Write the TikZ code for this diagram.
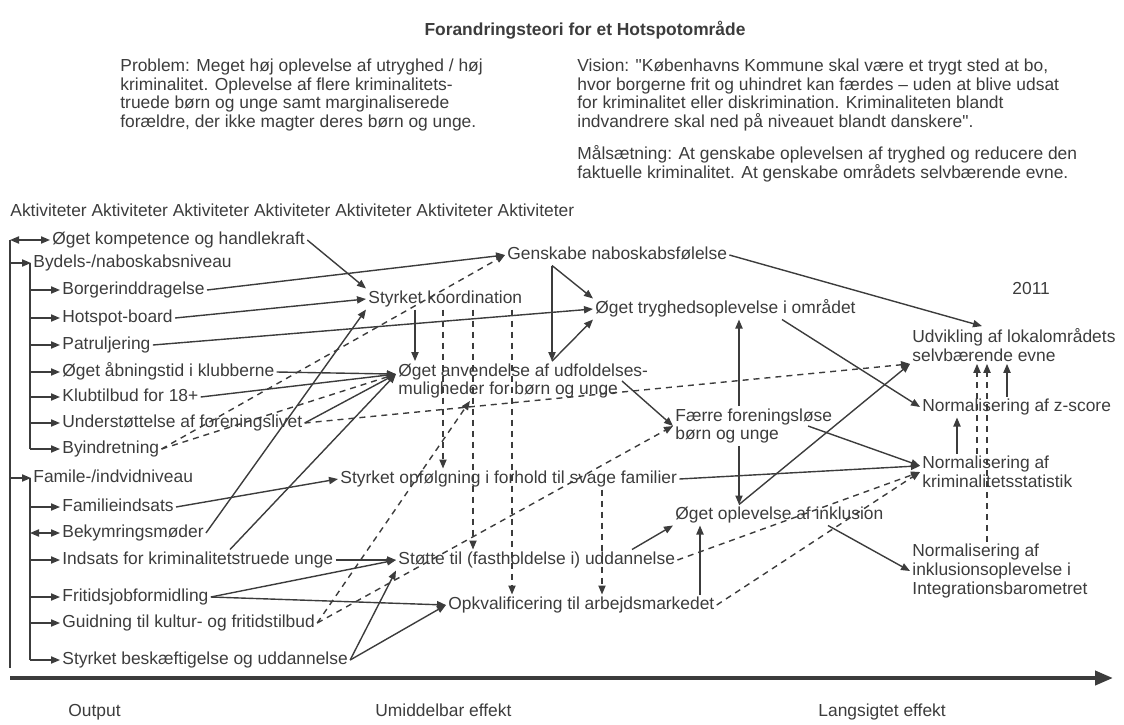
\documentclass[tikz,border=0pt]{standalone}
\usepackage{fontspec}
\setmainfont{Liberation Sans}[Ligatures=TeXOff]
\usetikzlibrary{arrows.meta}
\definecolor{inkGray}{HTML}{3C3C3C}

\begin{document}
\begin{tikzpicture}[x=0.5pt, y=-0.5pt, color=inkGray,
        every node/.style={font=\fontsize{8.7}{9.4}\selectfont, text=inkGray, inner sep=1pt}]
        \tikzstyle{textStyle} = [anchor=west, text height=6.3pt, text depth=1.8pt]
        \tikzstyle{blockStyle} = [anchor=west, align=left]
        \tikzstyle{lineEdge} = [draw=inkGray, line width=0.7pt]
        \tikzstyle{arrowEdge} = [draw=inkGray, line width=0.7pt, -{Triangle[length=4.5pt,width=3.6pt]}]
        \tikzstyle{bothEdge} = [draw=inkGray, line width=0.7pt, {Triangle[length=4.5pt,width=3.6pt]}-{Triangle[length=4.5pt,width=3.6pt]}]
        \tikzstyle{dashEdge} = [arrowEdge, dash pattern=on 3pt off 2.5pt]
        \useasboundingbox (0,0) rectangle (1124,724);
        % header texts
        \node[font=\fontsize{8.7}{9.4}\selectfont\bfseries] (title) at (585,30) {Forandringsteori for et Hotspotområde};
        \node[blockStyle] (problem) at (118,95) {Problem: Meget høj oplevelse af utryghed / høj\\kriminalitet. Oplevelse af flere kriminalitets-\\truede børn og unge samt marginaliserede\\forældre, der ikke magter deres børn og unge.};
        \node[blockStyle] (vision) at (575,95) {Vision: "Københavns Kommune skal være et trygt sted at bo,\\hvor borgerne frit og uhindret kan færdes – uden at blive udsat\\for kriminalitet eller diskrimination. Kriminaliteten blandt\\indvandrere skal ned på niveauet blandt danskere".};
        \node[blockStyle] (maal) at (575,164) {Målsætning: At genskabe oplevelsen af tryghed og reducere den\\faktuelle kriminalitet. At genskabe områdets selvbærende evne.};
        \node[textStyle] (aktiv) at (8,212) {Aktiviteter Aktiviteter Aktiviteter Aktiviteter Aktiviteter Aktiviteter Aktiviteter};
        % activities
        \node[textStyle] (kompetence) at (50,240) {Øget kompetence og handlekraft};
        \node[textStyle] (bydels) at (31,263) {Bydels-/naboskabsniveau};
        \node[textStyle] (borger) at (60,290) {Borgerinddragelse};
        \node[textStyle] (hotspot) at (60,318) {Hotspot-board};
        \node[textStyle] (patrulje) at (60,345) {Patruljering};
        \node[textStyle] (aabning) at (60,372) {Øget åbningstid i klubberne};
        \node[textStyle] (klub) at (60,397) {Klubtilbud for 18+};
        \node[textStyle] (forening) at (60,423) {Understøttelse af foreningslivet};
        \node[textStyle] (byindret) at (60,449) {Byindretning};
        \node[textStyle] (famile) at (31,478) {Famile-/indvidniveau};
        \node[textStyle] (familie) at (60,507) {Familieindsats};
        \node[textStyle] (bekym) at (60,533) {Bekymringsmøder};
        \node[textStyle] (indsats) at (60,560) {Indsats for kriminalitetstruede unge};
        \node[textStyle] (fritid) at (60,597) {Fritidsjobformidling};
        \node[textStyle] (guid) at (60,623) {Guidning til kultur- og fritidstilbud};
        \node[textStyle] (beskaef) at (60,660) {Styrket beskæftigelse og uddannelse};
        % effects
        \node[textStyle] (genskabe) at (505,255) {Genskabe naboskabsfølelse};
        \node[textStyle] (koord) at (366,299) {Styrket koordination};
        \node[textStyle] (tryg) at (593,309) {Øget tryghedsoplevelse i området};
        \node[blockStyle] (anvend) at (396,381) {Øget anvendelse af udfoldelses-\\muligheder for børn og unge};
        \node[blockStyle] (faerre) at (673,426) {Færre foreningsløse\\børn og unge};
        \node[textStyle] (opfoelg) at (338,479) {Styrket opfølgning i forhold til svage familier};
        \node[textStyle] (inklus) at (673,515) {Øget oplevelse af inklusion};
        \node[textStyle] (stoette) at (396,560) {Støtte til (fastholdelse i) uddannelse};
        \node[textStyle] (opkval) at (446,605) {Opkvalificering til arbejdsmarkedet};
        \node[textStyle] (aar) at (1010,290) {2011};
        \node[blockStyle] (udvik) at (910,345) {Udvikling af lokalområdets\\selvbærende evne};
        \node[textStyle] (zscore) at (920,407) {Normalisering af z-score};
        \node[blockStyle] (krim) at (920,472) {Normalisering af\\kriminalitetsstatistik};
        \node[blockStyle] (inklNorm) at (910,571) {Normalisering af\\inklusionsoplevelse i\\Integrationsbarometret};
        % axis
        \node[textStyle] (output) at (66,712) {Output};
        \node[textStyle] (umiddel) at (373,712) {Umiddelbar effekt};
        \node[textStyle] (langsig) at (816,712) {Langsigtet effekt};
        \coordinate (axisStart) at (10,678);
        \coordinate (axisEnd) at (1113,678);
        \draw[line width=2pt, -{Triangle[length=9pt,width=7pt]}] (axisStart) -- (axisEnd);
        % tree
        \coordinate (treeTop) at (10,240);
        \coordinate (treeBot) at (10,668);
        \coordinate (subA) at (30,263);
        \coordinate (subB) at (30,478);
        \draw[lineEdge] (treeTop) -- (treeBot);
        \draw[lineEdge] (subA) -- (subA |- byindret.west);
        \draw[lineEdge] (subB) -- (subB |- beskaef.west);
        \draw[bothEdge] (treeTop) -- (kompetence.west);
        \draw[arrowEdge] (treeTop |- bydels.west) -- (bydels.west);
        \draw[arrowEdge] (treeTop |- famile.west) -- (famile.west);
        \draw[arrowEdge] (subA |- borger.west) -- (borger.west);
        \draw[arrowEdge] (subA |- hotspot.west) -- (hotspot.west);
        \draw[arrowEdge] (subA |- patrulje.west) -- (patrulje.west);
        \draw[arrowEdge] (subA |- aabning.west) -- (aabning.west);
        \draw[arrowEdge] (subA |- klub.west) -- (klub.west);
        \draw[arrowEdge] (subA |- forening.west) -- (forening.west);
        \draw[arrowEdge] (subA |- byindret.west) -- (byindret.west);
        \draw[arrowEdge] (subB |- familie.west) -- (familie.west);
        \draw[bothEdge] (subB |- bekym.west) -- (bekym.west);
        \draw[arrowEdge] (subB |- indsats.west) -- (indsats.west);
        \draw[arrowEdge] (subB |- fritid.west) -- (fritid.west);
        \draw[arrowEdge] (subB |- guid.west) -- (guid.west);
        \draw[arrowEdge] (subB |- beskaef.west) -- (beskaef.west);
        % attachment points
        \coordinate (anvendIn) at ([yshift=-6.5pt]anvend.north west);
        \coordinate (anvendLo) at ([xshift=37pt]anvend.south west);
        \coordinate (anvendOut) at ([xshift=113pt]anvend.west);
        \coordinate (koordDn) at ([xshift=24.5pt]koord.south west);
        \coordinate (koordD1) at ([xshift=38.5pt]koord.south west);
        \coordinate (koordD2) at ([xshift=53.5pt]koord.south west);
        \coordinate (koordD3) at ([xshift=73pt]koord.south west);
        \coordinate (genDn) at ([xshift=23.5pt]genskabe.south west);
        \coordinate (trygOut) at ([xshift=94.5pt]tryg.south west);
        \coordinate (faerreUp) at ([xshift=33pt]faerre.north west);
        \coordinate (faerreDn) at ([xshift=33pt]faerre.south west);
        \coordinate (faerreOut) at ([xshift=67.5pt]faerre.west);
        \coordinate (opfDn) at ([xshift=132pt]opfoelg.south west);
        \coordinate (opkvalUp) at ([xshift=127pt]opkval.north west);
        \coordinate (stoetteUp) at ([xshift=118pt]stoette.north west);
        \coordinate (inklusOut) at ([xshift=77.5pt]inklus.south west);
        \coordinate (indsatsUp) at ([xshift=85pt]indsats.north west);
        \coordinate (krimIn) at ([yshift=-6pt]krim.north west);
        \coordinate (krimUp) at ([xshift=18.5pt]krim.north west);
        \coordinate (krimUpB) at ([xshift=28.5pt]krim.north west);
        \coordinate (zUp) at ([xshift=43.5pt]zscore.north west);
        \coordinate (inklUp) at ([xshift=38.5pt]inklNorm.north west);
        \coordinate (udvikTop) at ([xshift=36pt]udvik.north west);
        % solid connectors
        \draw[arrowEdge] (kompetence.east) -- (koord.north west);
        \draw[arrowEdge] (borger.east) -- (genskabe.west);
        \draw[arrowEdge] (hotspot.east) -- (koord.west);
        \draw[arrowEdge] (patrulje.east) -- (tryg.west);
        \draw[arrowEdge] (aabning.east) -- (anvendIn);
        \draw[arrowEdge] (klub.east) -- (anvendIn);
        \draw[arrowEdge] (forening.east) -- (anvendIn);
        \draw[arrowEdge] (bekym.east) -- (koord.south west);
        \draw[arrowEdge] (indsatsUp) -- (anvendIn);
        \draw[arrowEdge] (familie.east) -- (opfoelg.west);
        \draw[arrowEdge] (indsats.east) -- (stoette.west);
        \draw[arrowEdge] (fritid.east) -- (stoette.west);
        \draw[arrowEdge] (fritid.east) -- (opkval.west);
        \draw[arrowEdge] (beskaef.east) -- (stoette.south west);
        \draw[arrowEdge] (beskaef.east) -- (opkval.west);
        \draw[arrowEdge] (koordDn) -- (koordDn |- anvend.north);
        \draw[arrowEdge] (genDn) -- (tryg.north west);
        \draw[arrowEdge] (genDn) -- (genDn |- anvend.north);
        \draw[arrowEdge] (genDn |- anvend.north) -- (tryg.south west);
        \draw[arrowEdge] (anvendOut) -- (faerre.west);
        \draw[arrowEdge] (genskabe.east) -- (udvikTop);
        \draw[arrowEdge] (trygOut) -- (zscore.west);
        \draw[arrowEdge] (faerreUp) -- (faerreUp |- tryg.south);
        \draw[arrowEdge] (faerreDn) -- (faerreDn |- inklus.north);
        \draw[arrowEdge] (faerreDn |- inklus.north) -- (udvik.south west);
        \draw[arrowEdge] (faerreOut) -- (krimIn);
        \draw[arrowEdge] (opfoelg.east) -- (krimIn);
        \draw[arrowEdge] (stoetteUp) -- (inklus.south west);
        \draw[arrowEdge] (opkvalUp) -- (opkvalUp |- inklus.south);
        \draw[arrowEdge] (inklusOut) -- (inklNorm.west);
        \draw[arrowEdge] (krimUp) -- (krimUp |- zscore.south);
        \draw[arrowEdge] (zUp) -- (zUp |- udvik.south);
        % dashed connectors
        \draw[dashEdge] (byindret.east) -- (genskabe.west);
        \draw[dashEdge] (byindret.east) -- (anvendIn);
        \draw[dashEdge] (forening.east) -- (udvik.south west);
        \draw[dashEdge] (guid.east) -- (anvendLo);
        \draw[dashEdge] (guid.east) -- (faerre.west);
        \draw[dashEdge] (koordD1) -- (koordD1 |- opfoelg.north);
        \draw[dashEdge] (koordD2) -- (koordD2 |- stoette.north);
        \draw[dashEdge] (koordD3) -- (koordD3 |- opkval.north);
        \draw[dashEdge] (opfDn) -- (opfDn |- opkval.north);
        \draw[dashEdge] (stoette.east) -- (krim.west);
        \draw[dashEdge] (opkval.east) -- (krim.west);
        \draw[dashEdge] (krimUpB) -- (krimUpB |- udvik.south);
        \draw[dashEdge] (inklUp) -- (inklUp |- udvik.south);
    \end{tikzpicture}
\end{document}
